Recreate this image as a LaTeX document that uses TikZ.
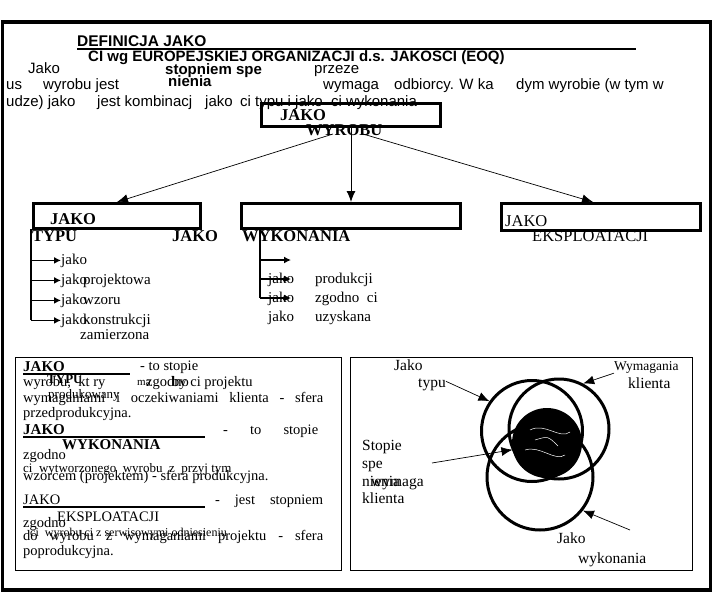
\documentclass[tikz,border=0pt]{standalone}
\usepackage{fontspec}
\setmainfont{Liberation Serif}
\newfontfamily\arialfont{Liberation Sans}
\usepackage{tikz}
\usetikzlibrary{positioning,arrows.meta}

\tikzset{
  serif/.style={anchor=base west, inner sep=0pt, font=\fontsize{15}{17}\selectfont},
  body/.style={serif, font=\fontsize{14.5}{16}\selectfont},
  bodybf/.style={serif, font=\fontsize{15}{17}\selectfont\bfseries},
  headbf/.style={serif, font=\fontsize{16.5}{18}\selectfont\bfseries},
  head/.style={serif, font=\fontsize{16.5}{18}\selectfont},
  sans/.style={anchor=base west, inner sep=0pt, font=\arialfont\fontsize{15}{17}\selectfont},
  sansbf/.style={sans, font=\arialfont\fontsize{15}{17}\selectfont\bfseries},
  thickbox/.style={draw, line width=3pt, inner sep=0pt},
  thinbox/.style={draw, line width=1pt, inner sep=0pt},
  arr/.style={-{Latex[length=11pt,width=9pt]}, line width=0.7pt},
  listarr/.style={-{Latex[length=7pt,width=7pt]}, line width=1.6pt},
  ring/.style={draw, circle, line width=3pt, inner sep=0pt},
}

\begin{document}
\begin{tikzpicture}[x=1pt,y=-1pt]
\useasboundingbox (0,0) rectangle (718,598);
\draw[line width=3.5pt] (2.5,22) rectangle (710.5,590);

% naglowek
\node[sansbf, font=\arialfont\fontsize{15.5}{17}\selectfont\bfseries] (tyt1) at (77,46) {DEFINICJA JAKO};
\draw[line width=1.5pt] (tyt1.base west) ++(0,3) -- (636,49);
\node[sansbf, font=\arialfont\fontsize{15}{17}\selectfont\bfseries] (tyt2) at (88,61) {CI wg EUROPEJSKIEJ ORGANIZACJI d.s. JAKOSCI (EOQ)};

\node[sans] (s1) at (28,73) {Jako};
\node[sansbf] (s2) at (165,74) {stopniem spe};
\node[sans] (s3) at (314,73) {przeze};
\node[sans] (s4) at (6,89) {us};
\node[sans] (s5) at (43,89) {wyrobu jest};
\node[sansbf] (s6) at (168,86) {nienia};
\node[sans] (s7) at (323,89) {wymaga};
\node[sans] (s8) at (394,89) {odbiorcy. W ka};
\node[sans] (s9) at (516,89) {dym wyrobie (w tym w};
\node[sans] (s10) at (6,106) {udze) jako};
\node[sans] (s11) at (97,106) {jest kombinacj};
\node[sans] (s12) at (205,106) {jako};
\node[sans] (s13) at (240,106) {ci typu i jako\ \ ci wykonania};

% jakosc wyrobu
\node[headbf] at (280,120) {JAKO};
\node[headbf] at (306,135) {WYROBU};
\node[thickbox, minimum width=179pt, minimum height=23pt] (wyrob) at (351,115) {};

% trzy rodzaje
\node[headbf] at (50,224) {JAKO};
\node[headbf] at (32,241) {TYPU};
\node[headbf] at (172,241) {JAKO};
\node[headbf] at (242,241) {WYKONANIA};
\node[head] at (505,226) {JAKO};
\node[head] at (532,241) {EKSPLOATACJI};
\node[thickbox, minimum width=167pt, minimum height=25pt] (typ) at (117,216) {};
\node[thickbox, minimum width=219pt, minimum height=25pt] (wyk) at (351,216) {};
\node[thickbox, minimum width=199pt, minimum height=27pt] (eksp) at (601,217) {};

\draw[arr] ([xshift=-18pt,yshift=-6pt]wyrob.south) -- (typ.north);
\draw[arr, line width=1pt] (wyrob.south) -- (wyk.north);
\draw[arr] ([xshift=12pt,yshift=-6pt]wyrob.south) -- ([xshift=-8pt]eksp.north);

% lista typu
\node[serif] (tj1) at (61,264) {jako};
\node[serif] (tj2) at (61,284) {jako};
\node[serif] (tj3) at (61,304) {jako};
\node[serif] (tj4) at (61,324) {jako};
\node[serif] (tp2) at (83,284) {projektowa};
\node[serif] (tp3) at (83,304) {wzoru};
\node[serif] (tp4) at (83,324) {konstrukcji};
\node[serif] (tp5) at (80,339) {zamierzona};
\coordinate (pniL) at (31,229);
\draw[line width=1.6pt] (pniL) -- (pniL |- tj4.west);
\foreach \i in {1,...,4}
  \draw[listarr] (pniL |- tj\i.west) -- (tj\i.west);

% lista wykonania
\node[serif] (wj1) at (268,283) {jako};
\node[serif] (wj2) at (268,302) {jako};
\node[serif] (wj3) at (268,321) {jako};
\node[serif] (wp1) at (315,283) {produkcji};
\node[serif] (wp2) at (315,302) {zgodno\ \ ci};
\node[serif] (wp3) at (315,321) {uzyskana};
\coordinate (pniW) at (260,229);
\coordinate (wa1) at (291,260);
\coordinate (wa2) at (291,279);
\coordinate (wa3) at (291,298);
\draw[line width=1.6pt] (pniW) -- (pniW |- wa3);
\foreach \i in {1,2,3}
  \draw[listarr] (pniW |- wa\i) -- (wa\i);

% definicje
\node[thinbox, minimum width=326pt, minimum height=213pt] (opis) at (178,463.5) {};
\node[bodybf] (o1) at (23,371) {JAKO};
\draw[line width=1.5pt] (o1.base west) ++(0,3) -- (130,374);
\node[body] (o2) at (140,370) {- to stopie};
\node[bodybf, font=\fontsize{13}{15}\selectfont\bfseries] (o3) at (47,383) {TYPU};
\node[body] (o4) at (23,386) {wyrobu,\ \ kt ry};
\node[body, font=\fontsize{11}{13}\selectfont] (o5) at (137,385) {ma};
\node[body] (o6) at (146,386) {zgodno};
\node[body] (o7) at (172,386) {by ci projektu};
\node[body, font=\fontsize{13}{15}\selectfont] (o8) at (48,398) {produkowany};
\node[body] (o9) at (23,402) {\makebox[300pt][s]{wymaganiami i oczekiwaniami klienta - sfera}};
\node[body] (o10) at (23,417) {przedprodukcyjna.};
\node[bodybf] (o11) at (23,434) {JAKO};
\draw[line width=1.5pt] (o11.base west) ++(0,3) -- (205,437);
\node[body] (o12) at (223,434) {\makebox[95pt][s]{- to stopie}};
\node[bodybf] (o13) at (62,449) {WYKONANIA};
\node[body] (o14) at (23,459) {zgodno};
\node[body, font=\fontsize{13}{15}\selectfont] (o15) at (23,472) {ci\ \ wytworzonego\ \ wyrobu\ \ z\ \ przyj tym};
\node[body] (o16) at (23,480) {wzorcem (projektem) - sfera produkcyjna.};
\node[body] (o17) at (23,504) {JAKO};
\draw[line width=1.5pt] (o17.base west) ++(0,3) -- (205,507);
\node[body] (o18) at (215,504) {\makebox[108pt][s]{- jest stopniem}};
\node[body] (o19) at (57,521) {EKSPLOATACJI};
\node[body] (o20) at (23,527) {zgodno};
\node[body, font=\fontsize{12}{14}\selectfont] (o21) at (30,536) {ci\ \ wyrobu ci z serwisowymi odniesieniu};
\node[body] (o22) at (23,540) {\makebox[300pt][s]{do wyrobu z wymaganiami projektu - sfera}};
\node[body] (o23) at (23,555) {poprodukcyjna.};

% kola
\node[thinbox, minimum width=342pt, minimum height=213pt] (kola) at (521,463.5) {};
\node[ring, minimum size=101pt] (ctyp) at (532,431) {};
\node[ring, minimum size=100pt] (cwym) at (559,429) {};
\node[ring, minimum size=106pt] (cwyk) at (540,477) {};
\node[circle, fill=black, minimum size=70pt] (core) at (547,443) {};
\draw[white, line width=0.5pt] (530,430) .. controls (545,422) and (560,440) .. (570,432)
  (525,450) .. controls (540,445) and (555,462) .. (565,455)
  (535,440) .. controls (548,436) .. (558,446);

\node[serif, font=\fontsize{15.5}{17}\selectfont] (k1) at (394,370) {Jako};
\node[serif, font=\fontsize{15.5}{17}\selectfont] (k2) at (418,387) {typu};
\node[serif, font=\fontsize{13.5}{15}\selectfont] (k3) at (614,370) {Wymagania};
\node[serif, font=\fontsize{15.5}{17}\selectfont] (k4) at (628,388) {klienta};
\node[serif, font=\fontsize{15.5}{17}\selectfont] (k5) at (362,450) {Stopie};
\node[serif, font=\fontsize{15.5}{17}\selectfont] (k6) at (362,468) {spe};
\node[serif, font=\fontsize{15.5}{17}\selectfont] (k7) at (362,486) {nienia};
\node[serif, font=\fontsize{15.5}{17}\selectfont] (k8) at (371,486) {wymaga};
\node[serif, font=\fontsize{15.5}{17}\selectfont] (k9) at (362,503) {klienta};
\node[serif, font=\fontsize{15.5}{17}\selectfont] (k10) at (557,543) {Jako};
\node[serif, font=\fontsize{15.5}{17}\selectfont] (k11) at (578,563) {wykonania};
\coordinate (pstop) at (432,463);
\coordinate (pwyk) at (630,530);

\draw[arr] ([yshift=3pt]k2.east) -- (ctyp.145);
\draw[arr] (k3.south west) -- (cwym.62);
\draw[arr] (pstop) -- (core.191);
\draw[arr] (pwyk) -- (cwyk.322);
\end{tikzpicture}
\end{document}
